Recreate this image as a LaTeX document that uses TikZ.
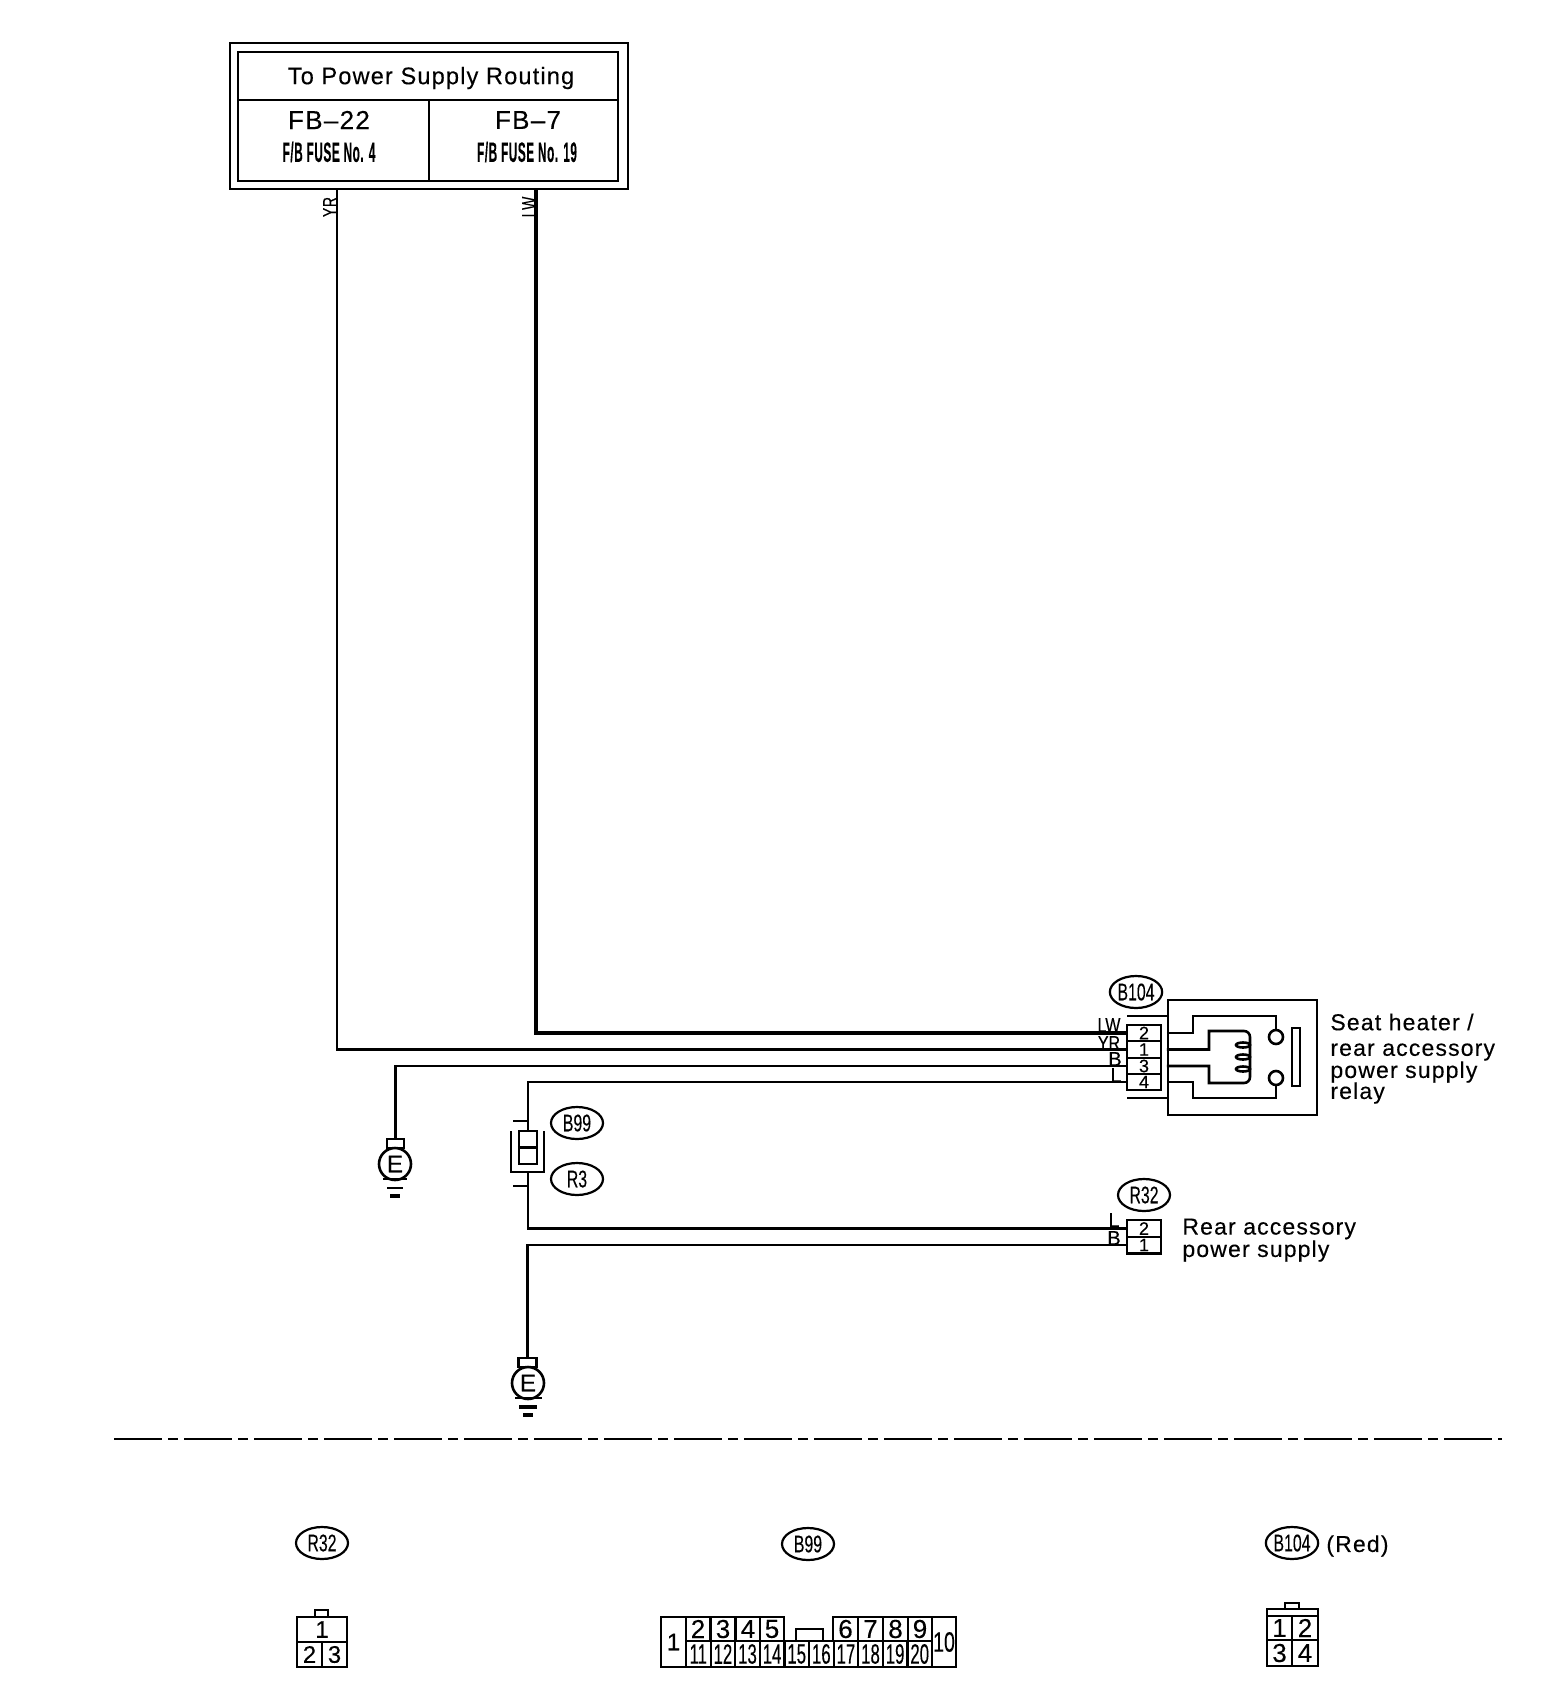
\documentclass[tikz,border=0pt]{standalone}
\usepackage{fontspec}
\usepackage{graphicx}
\setmainfont[FakeBold=.25]{Liberation Sans}
\newfontfamily\widefont[FakeBold=.25,LetterSpace=5]{Liberation Sans}
\usetikzlibrary{shapes.geometric}
\newcommand{\narrowtxt}[2][.62]{\scalebox{#1}[1]{#2}}
\tikzset{
  thinw/.style={line width=1.3pt},
  thickw/.style={line width=2pt},
  tag/.style={ellipse,draw,line width=1.1pt,minimum width=26pt,minimum height=16pt,inner sep=0pt,font=\fontsize{12}{12}\selectfont},
  pinbox/.style={rectangle,draw,line width=1.1pt,inner sep=0pt},
  lbltxt/.style={inner sep=0pt,font=\fontsize{11.5}{11.5}\selectfont\widefont},
}
\begin{document}
\begin{tikzpicture}[x=.5pt,y=-.5pt]
        \useasboundingbox (0,0) rectangle (1568,1702);

        % fuse box
        \begin{scope}[every node/.style={pinbox,line width=1.2pt}]
          \node[minimum width=199pt,minimum height=73pt] (frame) at (429,116) {};
          \node[minimum width=190pt,minimum height=24pt] (title) at (428,76) {};
          \node[minimum width=95.5pt,minimum height=40.5pt] (fb22) at (333.5,140.5) {};
          \node[minimum width=94.5pt,minimum height=40.5pt] (fb7) at (523.5,140.5) {};
        \end{scope}

        \begin{scope}[every node/.style={lbltxt}]
          \node[font=\fontsize{12}{12}\selectfont\widefont] (titletxt) at (431,78) {\narrowtxt[.98]{To Power Supply Routing}};
          \node (fb22a) at (329,120) {\fontsize{13}{13}\selectfont FB–22};
          \node (fb7a) at (528,120) {\fontsize{13}{13}\selectfont FB–7};
          \node (fuse4) at (329,152) {\narrowtxt[.42]{\fontsize{14}{14}\selectfont\bfseries F/B FUSE No. 4}};
          \node (fuse19) at (527,152) {\narrowtxt[.42]{\fontsize{14}{14}\selectfont\bfseries F/B FUSE No. 19}};
          \node[rotate=90] (yrlbl) at (330,207) {\narrowtxt[.7]{\fontsize{10}{10}\selectfont YR}};
          \node[rotate=90] (lwlbl) at (529,207) {\narrowtxt[.7]{\fontsize{10}{10}\selectfont LW}};
        \end{scope}

        % relay connector
        \begin{scope}[every node/.style={pinbox,minimum width=17pt,minimum height=8.2pt,font=\fontsize{9}{9}\selectfont}]
          \node (p2) at (1144,1033) {2};
          \node (p1) at (1144,1049.5) {1};
          \node (p3) at (1144,1066) {3};
          \node (p4) at (1144,1082) {4};
        \end{scope}

        % rear accessory connector
        \begin{scope}[every node/.style={pinbox,minimum width=17pt,minimum height=8.4pt,font=\fontsize{9}{9}\selectfont}]
          \node (r2) at (1144,1228.5) {2};
          \node (r1) at (1144,1245) {1};
        \end{scope}

        % relay box
        \node[pinbox,minimum width=74.5pt,minimum height=57.5pt] (relay) at (1242.5,1057.5) {};
        \node[circle,draw,thinw,minimum size=7pt,inner sep=0pt] (sw1) at (1276,1037) {};
        \node[circle,draw,thinw,minimum size=7pt,inner sep=0pt] (sw2) at (1276,1078) {};
        \node[pinbox,minimum width=4pt,minimum height=29pt] (bar) at (1296,1057) {};
        \coordinate (top1) at (1127,1016);
        \coordinate (top2) at (1127,1098);
        \coordinate (up) at (1193,1016);
        \coordinate (dn) at (1193,1098);
        \coordinate (cl) at (1209,1031);
        \coordinate (cb) at (1209,1083);
        \draw[thinw] (top1) -- (relay.west |- top1);
        \draw[thinw] (top2) -- (relay.west |- top2);
        \draw[thinw] (relay.west |- p2) -| (up) -| (sw1);
        \draw[thinw] (relay.west |- p4) -| (dn) -| (sw2);
        \draw[thinw] (relay.west |- p1) -| (cl) -- (1238,1031) [rounded corners=3pt] -- (1250,1031) -- (1250,1083) -- (1238,1083) [sharp corners] -- (cb) |- (relay.west |- p3);
        \foreach \cy in {1045,1057,1069}
          \draw[thinw] (1243,\cy) ellipse (7 and 2.5);

        % wires from the fuse box
        \coordinate (yrtop) at (337,189);
        \coordinate (lwtop) at (536,189);
        \draw[thickw] (lwtop) |- (p2.west);
        \draw[thinw] (yrtop) |- (p1.west);

        % earth 1
        \node[pinbox,minimum width=8.5pt,minimum height=4.5pt] (eb1) at (395.5,1143.5) {};
        \node[circle,draw,thinw,minimum size=16pt,inner sep=0pt,font=\fontsize{12}{12}\selectfont] (e1) at (395,1164) {E};
        \coordinate (ea1) at (383,1179);
        \coordinate (ea2) at (407,1179);
        \coordinate (eb2) at (387,1188);
        \coordinate (eb3) at (403,1188);
        \coordinate (ec1) at (390,1196);
        \coordinate (ec2) at (400,1196);
        \draw[thinw] (ea1) -- (ea2);
        \draw[thinw] (eb2) -- (eb3);
        \draw[thickw] (ec1) -- (ec2);
        \draw[thinw] (p3.west) -| (eb1.north);

        % joint connector
        \node[pinbox,minimum width=9pt,minimum height=16.5pt] (jc) at (528,1147.5) {};
        \draw[thinw] (jc.west) -- (jc.east);
        \coordinate (ua) at (511,1131);
        \coordinate (ub) at (511,1172);
        \coordinate (uc) at (544,1172);
        \coordinate (ud) at (544,1131);
        \draw[thinw] (ua) -- (ub) -- (uc) -- (ud);
        \coordinate (ja) at (528,1173);
        \coordinate (s1) at (513,1121);
        \coordinate (s2) at (528,1121);
        \coordinate (s3) at (513,1186);
        \coordinate (s4) at (528,1186);
        \draw[thinw] (s1) -- (s2);
        \draw[thinw] (s3) -- (s4);
        \draw[thinw] (p4.west) -| (jc.north);
        \draw[thinw] (ja) |- (r2.west);

        % earth 2
        \node[pinbox,minimum width=9pt,minimum height=4.5pt] (eb4) at (527.5,1362.5) {};
        \node[circle,draw,thinw,minimum size=16pt,inner sep=0pt,font=\fontsize{12}{12}\selectfont] (e2) at (528,1383) {E};
        \coordinate (ed1) at (515,1398);
        \coordinate (ed2) at (542,1398);
        \coordinate (ed3) at (519,1407);
        \coordinate (ed4) at (537,1407);
        \coordinate (ed5) at (523,1415);
        \coordinate (ed6) at (533,1415);
        \draw[thinw] (ed1) -- (ed2);
        \draw[thickw] (ed3) -- (ed4);
        \draw[thickw] (ed5) -- (ed6);
        \draw[thinw] (r1.west) -| (eb4.north);

        % wire colours
        \begin{scope}[every node/.style={inner sep=0pt,font=\fontsize{10}{10}\selectfont}]
          \node (lw) at (1109,1025) {\narrowtxt[.8]{LW}};
          \node (yr) at (1109,1043) {\narrowtxt[.8]{YR}};
          \node (bl) at (1115,1059) {B};
          \node (ll) at (1116,1075) {L};
          \node (rl) at (1114,1220) {L};
          \node (rb) at (1114,1238) {B};
        \end{scope}

        % connector tags
        \begin{scope}[every node/.style={tag}]
          \node (t104) at (1136,992) {\narrowtxt[.66]{B104}};
          \node (t99) at (577,1123) {\narrowtxt[.66]{B99}};
          \node (t3) at (577,1179) {\narrowtxt[.66]{R3}};
          \node (t32) at (1144,1195) {\narrowtxt[.66]{R32}};
          \node (u32) at (322,1543) {\narrowtxt[.66]{R32}};
          \node (u99) at (808,1544) {\narrowtxt[.66]{B99}};
          \node (u104) at (1292,1543) {\narrowtxt[.66]{B104}};
        \end{scope}

        % names
        \begin{scope}[every node/.style={lbltxt,anchor=west}]
          \node (seat) at (1330,1022) {Seat heater /};
          \node (rear) at (1330,1052) {rear accessory};
          \node (powr) at (1330,1072) {power supply};
          \node (rly) at (1330,1093) {relay};
          \node (rac) at (1182,1229) {Rear accessory};
          \node (rpw) at (1182,1251) {power supply};
          \node (red) at (1326,1546) {(Red)};
        \end{scope}

        % divider
        \coordinate (dl) at (114,1439);
        \coordinate (dr) at (1502,1439);
        \draw[line width=1.3pt,dash pattern=on 24pt off 3pt on 5pt off 3pt] (dl) -- (dr);

        % lower connectors
        \begin{scope}[every node/.style={pinbox,font=\fontsize{12}{12}\selectfont}]
          \node[minimum width=25pt,minimum height=12.5pt] (a1) at (322,1629.5) {1};
          \node[minimum width=12.5pt,minimum height=12.5pt] (a2) at (309.5,1654.5) {2};
          \node[minimum width=12.5pt,minimum height=12.5pt] (a3) at (334.5,1654.5) {3};
          \node[minimum width=6.5pt,minimum height=3.5pt] (atab) at (321.5,1613.5) {};

          \node[minimum width=12.5pt,minimum height=25pt] (m1) at (673.5,1642) {1};
          \node[minimum width=12pt,minimum height=25pt] (m10) at (944,1642) {\narrowtxt[.7]{\fontsize{14}{14}\selectfont 10}};
          \node[minimum width=13.5pt,minimum height=6pt] (mtab) at (809.5,1635) {};
        \end{scope}

        % top row, 2 to 9
        \begin{scope}[every node/.style={pinbox,minimum width=12.3pt,minimum height=12pt,font=\fontsize{13}{13}\selectfont}]
          \foreach \n/\px in {2/698,3/723,4/748,5/772,6/845.5,7/870.5,8/895.5,9/920}
            \node (m\n) at (\px,1629) {\n};
        \end{scope}

        % bottom row, 11 to 20
        \begin{scope}[every node/.style={pinbox,minimum width=12.3pt,minimum height=13pt,font=\fontsize{14}{14}\selectfont}]
          \foreach \i/\n in {0/11,1/12,2/13,3/14,4/15,5/16,6/17,7/18,8/19,9/20}
            \node (m\n) at ({698.3+\i*24.6},1654) {\narrowtxt[.6]{\n}};
        \end{scope}

        % relay plug
        \begin{scope}[every node/.style={pinbox,font=\fontsize{13}{13}\selectfont}]
          \node[minimum width=25.5pt,minimum height=3.5pt] (bhead) at (1292.5,1612.5) {};
          \node[minimum width=7pt,minimum height=3pt] (btab) at (1292,1606) {};
          \node[minimum width=12.5pt,minimum height=12pt] (b1) at (1279.5,1628) {1};
          \node[minimum width=13pt,minimum height=12pt] (b2) at (1305,1628) {2};
          \node[minimum width=12.5pt,minimum height=13pt] (b3) at (1279.5,1653) {3};
          \node[minimum width=13pt,minimum height=13pt] (b4) at (1305,1653) {4};
        \end{scope}

      \end{tikzpicture}
\end{document}
